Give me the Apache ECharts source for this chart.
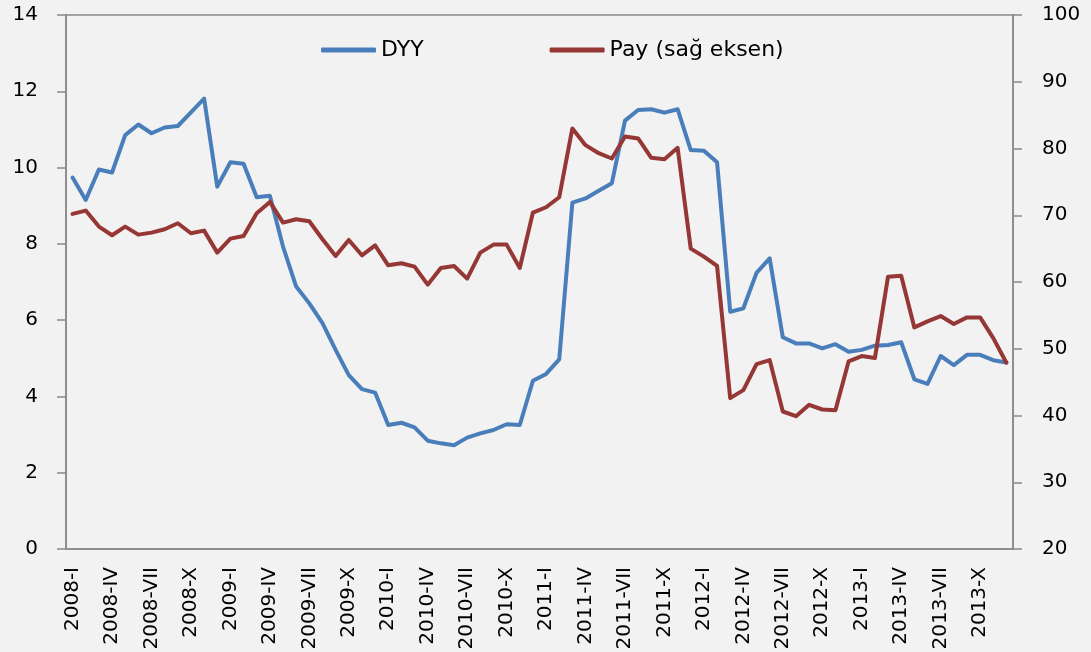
<!DOCTYPE html>
<html lang="tr">
<head>
  <meta charset="UTF-8">
  <title>DYY ve Pay</title>
  <style type="text/css">
    html, body { margin: 0; padding: 0; background: #f2f2f2; }
    #chart { width: 1091px; height: 652px; }
  </style>
</head>
<body>
  <div id="chart"></div>
  <script src="https://cdn.jsdelivr.net/npm/echarts@6/dist/echarts.min.js"></script>
  <script>
    // categories: monthly, 2008-I .. 2013-XII
    const years = ['2008', '2009', '2010', '2011', '2012', '2013']
    const months = ['I', 'II', 'III', 'IV', 'V', 'VI', 'VII', 'VIII', 'IX', 'X', 'XI', 'XII']

    // DYY (left axis)
    const dyy = [
      9.74, 9.15, 9.95, 9.87, 10.85, 11.13, 10.9, 11.05, 11.09, 11.45, 11.81, 9.5,
      10.14, 10.1, 9.22, 9.26, 7.93, 6.88, 6.44, 5.92, 5.22, 4.56, 4.19, 4.1,
      3.25, 3.31, 3.19, 2.84, 2.77, 2.72, 2.92, 3.03, 3.12, 3.27, 3.25, 4.41,
      4.59, 4.97, 9.08, 9.19, 9.39, 9.59, 11.23, 11.51, 11.53, 11.44, 11.53, 10.46,
      10.44, 10.14, 6.22, 6.31, 7.24, 7.62, 5.55, 5.39, 5.39, 5.26, 5.37, 5.17,
      5.22, 5.33, 5.35, 5.42, 4.45, 4.33, 5.06, 4.82, 5.09, 5.09, 4.95, 4.89
    ]

    // Pay (right axis)
    const pay = [
      70.2, 70.7, 68.3, 67.0, 68.3, 67.1, 67.4, 67.9, 68.8, 67.3, 67.7, 64.4,
      66.5, 66.9, 70.3, 72.0, 68.9, 69.4, 69.1, 66.4, 63.9, 66.3, 64.0, 65.5,
      62.5, 62.8, 62.3, 59.6, 62.1, 62.4, 60.5, 64.4, 65.6, 65.6, 62.1, 70.4,
      71.2, 72.7, 83.0, 80.5, 79.3, 78.5, 81.8, 81.5, 78.6, 78.4, 80.1, 65.0,
      63.8, 62.4, 42.6, 43.8, 47.7, 48.3, 40.6, 39.9, 41.6, 40.9, 40.8, 48.1,
      48.9, 48.6, 60.8, 60.95, 53.2, 54.1, 54.9, 53.7, 54.7, 54.7, 51.6, 47.9
    ]

    const categories = []
    years.forEach(y => months.forEach(m => categories.push(y + '-' + m)))

    const axisColor = '#898989'
    const font = 'DejaVu Sans'

    const chart = echarts.init(document.getElementById('chart'))

    const option = {
      backgroundColor: '#f2f2f2',
      animation: false,
      textStyle: { fontFamily: font, color: '#000' },
      grid: {
        left: 66,
        right: 78,
        top: 15,
        bottom: 103,
        containLabel: false,
        outerBoundsMode: 'none',
        show: true,
        borderColor: axisColor,
        borderWidth: 1.5,
        backgroundColor: 'transparent'
      },
      legend: {
        left: 316,
        top: 34,
        itemWidth: 55,
        itemHeight: 5,
        itemGap: 126,
        icon: 'roundRect',
        textStyle: { fontFamily: font, fontSize: 22, color: '#000' },
        data: ['DYY', 'Pay (sağ eksen)']
      },
      xAxis: {
        type: 'category',
        data: categories,
        boundaryGap: true,
        axisLine: { lineStyle: { color: axisColor, width: 1.5 } },
        axisTick: { interval: 0, length: 8, lineStyle: { color: axisColor, width: 1.5 } },
        axisLabel: {
          interval: 2,
          rotate: 90,
          margin: 18,
          fontFamily: font,
          fontSize: 20,
          color: '#000'
        },
        splitLine: { show: false }
      },
      yAxis: [
        {
          type: 'value',
          min: 0,
          max: 14,
          interval: 2,
          position: 'left',
          axisLine: { show: true, lineStyle: { color: axisColor, width: 1.5 } },
          axisTick: { show: true, length: 9, lineStyle: { color: axisColor, width: 1.5 } },
          axisLabel: { margin: 28, fontFamily: font, fontSize: 20, color: '#000' },
          splitLine: { show: false }
        },
        {
          type: 'value',
          min: 20,
          max: 100,
          interval: 10,
          position: 'right',
          axisLine: { show: true, lineStyle: { color: axisColor, width: 1.5 } },
          axisTick: { show: true, length: 9, lineStyle: { color: axisColor, width: 1.5 } },
          axisLabel: { margin: 29, fontFamily: font, fontSize: 20, color: '#000' },
          splitLine: { show: false }
        }
      ],
      series: [
        {
          name: 'DYY',
          type: 'line',
          yAxisIndex: 0,
          data: dyy,
          symbol: 'none',
          color: '#4a7ebb',
          lineStyle: { width: 4, color: '#4a7ebb', cap: 'round', join: 'round' }
        },
        {
          name: 'Pay (sağ eksen)',
          type: 'line',
          yAxisIndex: 1,
          data: pay,
          symbol: 'none',
          color: '#953735',
          lineStyle: { width: 4, color: '#953735', cap: 'round', join: 'round' }
        }
      ]
    }

    chart.setOption(option)
  </script>
</body>
</html>
